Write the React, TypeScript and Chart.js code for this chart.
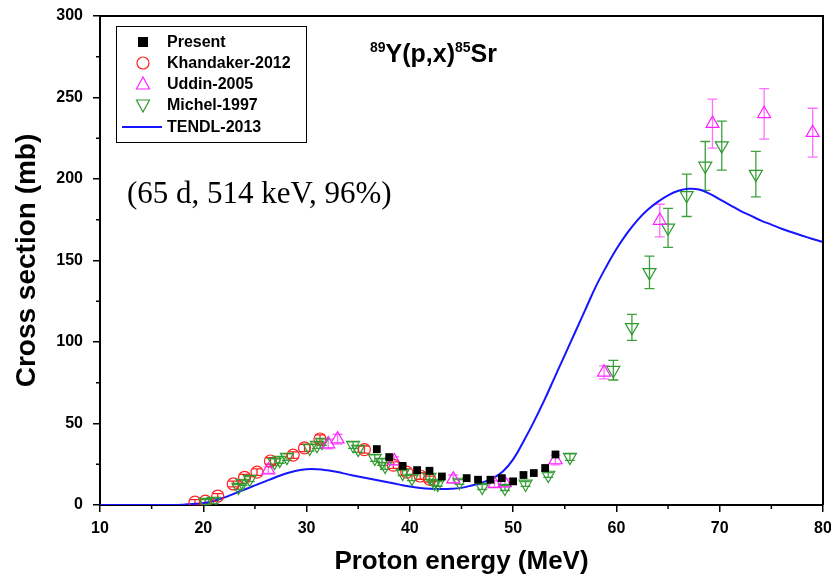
import React, { useEffect, useRef } from 'react';
import { Chart, registerables } from 'chart.js';

Chart.register(...registerables);

// ---------- data ----------
const presentE = [36.8, 38.0, 39.3, 40.7, 41.9, 43.1, 45.5, 46.6, 47.8, 48.9, 50.0, 51.0, 52.0, 53.1, 54.1];
const presentXS = [34.3, 29.4, 24.0, 21.4, 21.0, 17.5, 16.5, 15.5, 15.5, 16.5, 14.5, 18.4, 19.6, 22.7, 31.0];

const khandakerE = [19.2, 20.2, 21.4, 22.9, 24.0, 25.2, 26.5, 28.7, 29.8, 31.3, 35.6, 38.4, 39.7, 41.0, 41.9];
const khandakerXS = [1.8, 2.4, 5.5, 12.9, 17.0, 20.2, 27.0, 30.6, 35.0, 40.5, 34.0, 24.5, 20.2, 17.8, 15.9];
const khandakerErr = [1.5, 1.5, 1.5, 1.8, 1.8, 2, 2, 2, 2.2, 2.5, 2.2, 2, 2, 2, 1.8];

const uddinE = [26.3, 32.1, 33.0, 38.5, 44.2, 48.2, 49.2, 54.1, 58.8, 64.2, 69.3, 74.3, 79.0];
const uddinXS = [21.4, 37.4, 40.4, 27.0, 15.9, 12.9, 13.5, 27.6, 81.4, 174.5, 234.0, 240.0, 228.4];
const uddinErr = [2, 3, 3, 2.5, 2.5, 2, 2.5, 3, 4, 10, 15, 15.5, 15];

const michelE = [20.2, 21.0, 23.4, 23.8, 24.5, 26.9, 27.4, 28.1, 30.3, 31.0, 31.5, 34.5, 35.0, 36.6, 37.3, 37.6, 39.3, 40.2, 41.9, 42.4, 42.7, 44.8, 47.0, 49.2, 51.2, 53.4, 55.5, 59.7, 61.5, 63.2, 65.0, 66.8, 68.6, 70.2, 73.5];
const michelXS = [1.8, 2.4, 11.0, 13.5, 15.9, 26.3, 27.6, 29.4, 35.0, 36.7, 38.6, 36.7, 34.3, 28.8, 26.3, 23.9, 19.6, 16.5, 17.1, 13.5, 12.9, 14.1, 11.0, 10.4, 12.9, 18.4, 29.4, 82.7, 109.0, 142.7, 170.0, 190.0, 208.0, 220.5, 203.0];
const michelErr = [1.5, 1.5, 1.5, 1.5, 1.5, 2, 2, 2, 2, 2, 2, 2, 2, 2, 2, 2, 1.5, 1.5, 1.5, 1.5, 1.5, 1.5, 1.5, 1.5, 1.5, 1.5, 2, 6, 8, 10, 12, 13, 15, 15, 14];

const tendlE = [10, 12, 14, 16, 17, 18, 19, 20, 21, 22, 23, 24, 25, 26, 27, 28, 29, 30, 31, 32, 33, 34, 35, 36, 37, 38, 39, 40, 41, 42, 43, 44, 45, 46, 47, 48, 49, 50, 51, 52, 53, 54, 55, 56, 57, 58, 59, 60, 61, 62, 63, 64, 65, 66, 67, 68, 69, 70, 71, 72, 73, 74, 75, 76, 77, 78, 79, 80];
const tendlXS = [0, 0, 0, 0, 0, 0.2, 0.6, 1.2, 2.5, 4.5, 7, 9.5, 12, 14.5, 17, 19.3, 21, 22, 22, 21.3, 20.2, 18.8, 17.5, 16.2, 15, 13.8, 12.5, 11.3, 10.5, 10, 9.8, 9.9, 10.5, 12, 13.8, 16.3, 20.5, 28, 39, 51, 64, 78, 92, 106, 120, 134, 146, 157, 166.5, 174.5, 181, 186, 190, 192.8, 194, 193.5, 191, 187.5, 184, 180.5, 177.5, 174.5, 172, 169.5, 167.3, 165.2, 163.2, 161.3];

const xTicksMinor = [15, 25, 35, 45, 55, 65, 75];
const yTicksMinor = [25, 75, 125, 175, 225, 275];

const legendLabels = ['Present', 'Khandaker-2012', 'Uddin-2005', 'Michel-1997', 'TENDL-2013'];

const SANS = '"Liberation Sans", Arial, sans-serif';
const SERIF = '"Liberation Serif", "Times New Roman", serif';

const RED = '#ff2020';
const MAGENTA = '#ff20ff';
const MAGENTA_BAR = '#ff70ff';
const GREEN = '#2e9a2e';
const GREEN_BAR = '#3ea03e';
const BLUE = '#1515ff';

const pts = (xs: number[], ys: number[]) => xs.map((x, i) => ({ x, y: ys[i] }));

const errorBarPlugin = {
  id: 'errorBars',
  beforeDatasetsDraw(chart: any) {
    const ctx = chart.ctx;
    const xs = chart.scales.x;
    const ys = chart.scales.y;
    ctx.save();
    chart.data.datasets.forEach((ds: any) => {
      if (!ds.errors) return;
      ctx.strokeStyle = ds.barColor;
      ctx.lineWidth = 1.3;
      ds.data.forEach((p: any, i: number) => {
        const e = ds.errors[i];
        const px = xs.getPixelForValue(p.x);
        const yTop = ys.getPixelForValue(p.y + e);
        const yBot = ys.getPixelForValue(p.y - e);
        ctx.beginPath();
        ctx.moveTo(px, yTop);
        ctx.lineTo(px, yBot);
        ctx.moveTo(px - 5, yTop);
        ctx.lineTo(px + 5, yTop);
        ctx.moveTo(px - 5, yBot);
        ctx.lineTo(px + 5, yBot);
        ctx.stroke();
      });
    });
    ctx.restore();
  },
};

const decorPlugin = {
  id: 'decor',
  afterDraw(chart: any) {
    const ctx = chart.ctx;
    const { left, right, top, bottom } = chart.chartArea;
    const xs = chart.scales.x;
    const ys = chart.scales.y;
    ctx.save();
    ctx.strokeStyle = '#000';
    ctx.lineWidth = 2;
    ctx.beginPath();
    ctx.moveTo(left, top);
    ctx.lineTo(right, top);
    ctx.lineTo(right, bottom);
    ctx.stroke();
    ctx.lineWidth = 1.5;
    ctx.beginPath();
    xTicksMinor.forEach((v) => {
      const px = xs.getPixelForValue(v);
      ctx.moveTo(px, bottom);
      ctx.lineTo(px, bottom + 4);
    });
    yTicksMinor.forEach((v) => {
      const py = ys.getPixelForValue(v);
      ctx.moveTo(left, py);
      ctx.lineTo(left - 4, py);
    });
    ctx.stroke();

    // legend
    ctx.lineWidth = 1;
    ctx.strokeStyle = '#000';
    ctx.strokeRect(116.5, 26.5, 190, 116);
    const lx = 143;
    const rows = [42, 63, 84, 105, 127];
    ctx.fillStyle = '#000';
    ctx.fillRect(lx - 5, rows[0] - 5, 10, 10);
    ctx.strokeStyle = RED;
    ctx.lineWidth = 1.2;
    ctx.beginPath();
    ctx.arc(lx, rows[1], 6, 0, Math.PI * 2);
    ctx.stroke();
    ctx.strokeStyle = MAGENTA;
    ctx.beginPath();
    ctx.moveTo(lx, rows[2] - 7);
    ctx.lineTo(lx + 6.5, rows[2] + 5);
    ctx.lineTo(lx - 6.5, rows[2] + 5);
    ctx.closePath();
    ctx.stroke();
    ctx.strokeStyle = GREEN;
    ctx.beginPath();
    ctx.moveTo(lx, rows[3] + 7);
    ctx.lineTo(lx + 6.5, rows[3] - 5);
    ctx.lineTo(lx - 6.5, rows[3] - 5);
    ctx.closePath();
    ctx.stroke();
    ctx.strokeStyle = BLUE;
    ctx.lineWidth = 2;
    ctx.beginPath();
    ctx.moveTo(122, rows[4]);
    ctx.lineTo(162, rows[4]);
    ctx.stroke();
    ctx.fillStyle = '#000';
    ctx.font = `bold 16px ${SANS}`;
    ctx.textBaseline = 'middle';
    ctx.textAlign = 'left';
    legendLabels.forEach((t, i) => ctx.fillText(t, 167, rows[i] + 1));

    // title 89Y(p,x)85Sr
    ctx.textBaseline = 'alphabetic';
    let x = 370;
    const base = 62;
    const parts: [string, boolean][] = [['89', true], ['Y(p,x)', false], ['85', true], ['Sr', false]];
    parts.forEach(([t, sup]) => {
      ctx.font = sup ? `bold 14px ${SANS}` : `bold 25px ${SANS}`;
      ctx.fillText(t, x, sup ? base - 10 : base);
      x += ctx.measureText(t).width;
    });

    ctx.font = `31px ${SERIF}`;
    ctx.fillText('(65 d, 514 keV, 96%)', 127, 203);
    ctx.restore();
  },
};

export default function App() {
  const ref = useRef<HTMLCanvasElement>(null);
  useEffect(() => {
    document.body.style.margin = '0';
    const canvas = ref.current!;
    const chart = new Chart(canvas, {
      type: 'scatter',
      data: {
        datasets: [
          {
            label: 'Present',
            data: pts(presentE, presentXS),
            pointStyle: 'rect',
            pointRadius: 5.5,
            pointBackgroundColor: '#000',
            pointBorderColor: '#000',
            pointBorderWidth: 0,
            order: 0,
          },
          {
            label: 'Khandaker-2012',
            data: pts(khandakerE, khandakerXS),
            pointStyle: 'circle',
            pointRadius: 6,
            pointBackgroundColor: 'rgba(0,0,0,0)',
            pointBorderColor: RED,
            pointBorderWidth: 1.2,
            errors: khandakerErr,
            barColor: RED,
            order: 3,
          },
          {
            label: 'Uddin-2005',
            data: pts(uddinE, uddinXS),
            pointStyle: 'triangle',
            pointRadius: 7.5,
            pointBackgroundColor: 'rgba(0,0,0,0)',
            pointBorderColor: MAGENTA,
            pointBorderWidth: 1.2,
            errors: uddinErr,
            barColor: MAGENTA_BAR,
            order: 1,
          },
          {
            label: 'Michel-1997',
            data: pts(michelE, michelXS),
            pointStyle: 'triangle',
            rotation: 180,
            pointRadius: 7.5,
            pointBackgroundColor: 'rgba(0,0,0,0)',
            pointBorderColor: GREEN,
            pointBorderWidth: 1.2,
            errors: michelErr,
            barColor: GREEN_BAR,
            order: 2,
          },
          {
            label: 'TENDL-2013',
            type: 'line',
            data: pts(tendlE, tendlXS),
            borderColor: BLUE,
            borderWidth: 2,
            pointRadius: 0,
            tension: 0.4,
            fill: false,
            order: 4,
          },
        ] as any,
      },
      options: {
        responsive: false,
        animation: false,
        layout: { autoPadding: false, padding: { left: 0, top: 16, right: 8, bottom: 0 } },
        plugins: { legend: { display: false }, tooltip: { enabled: false } },
        scales: {
          x: {
            type: 'linear',
            min: 10,
            max: 80,
            afterFit: (s: any) => { s.height = 74; s.paddingLeft = 0; s.paddingRight = 0; },
            ticks: { stepSize: 10, color: '#000', font: { family: SANS, size: 16, weight: 'bold' }, padding: 7, maxRotation: 0 },
            grid: { drawOnChartArea: false, tickLength: 7, color: '#000', lineWidth: 1.5 },
            border: { color: '#000', width: 2 },
            title: { display: true, text: 'Proton energy (MeV)', color: '#000', font: { family: SANS, size: 26, weight: 'bold' }, padding: { top: 0, bottom: 2 } },
          },
          y: {
            type: 'linear',
            min: 0,
            max: 300,
            afterFit: (s: any) => { s.width = 100; s.paddingTop = 0; s.paddingBottom = 0; },
            ticks: { stepSize: 50, color: '#000', font: { family: SANS, size: 16, weight: 'bold' }, padding: 10 },
            grid: { drawOnChartArea: false, tickLength: 7, color: '#000', lineWidth: 1.5 },
            border: { color: '#000', width: 2 },
            title: { display: true, text: 'Cross section (mb)', color: '#000', font: { family: SANS, size: 28, weight: 'bold' }, padding: { top: 10, bottom: 0 } },
          },
        },
      } as any,
      plugins: [errorBarPlugin, decorPlugin],
    });
    return () => chart.destroy();
  }, []);
  return <canvas ref={ref} width={831} height={579} style={{ display: 'block' }} />;
}
